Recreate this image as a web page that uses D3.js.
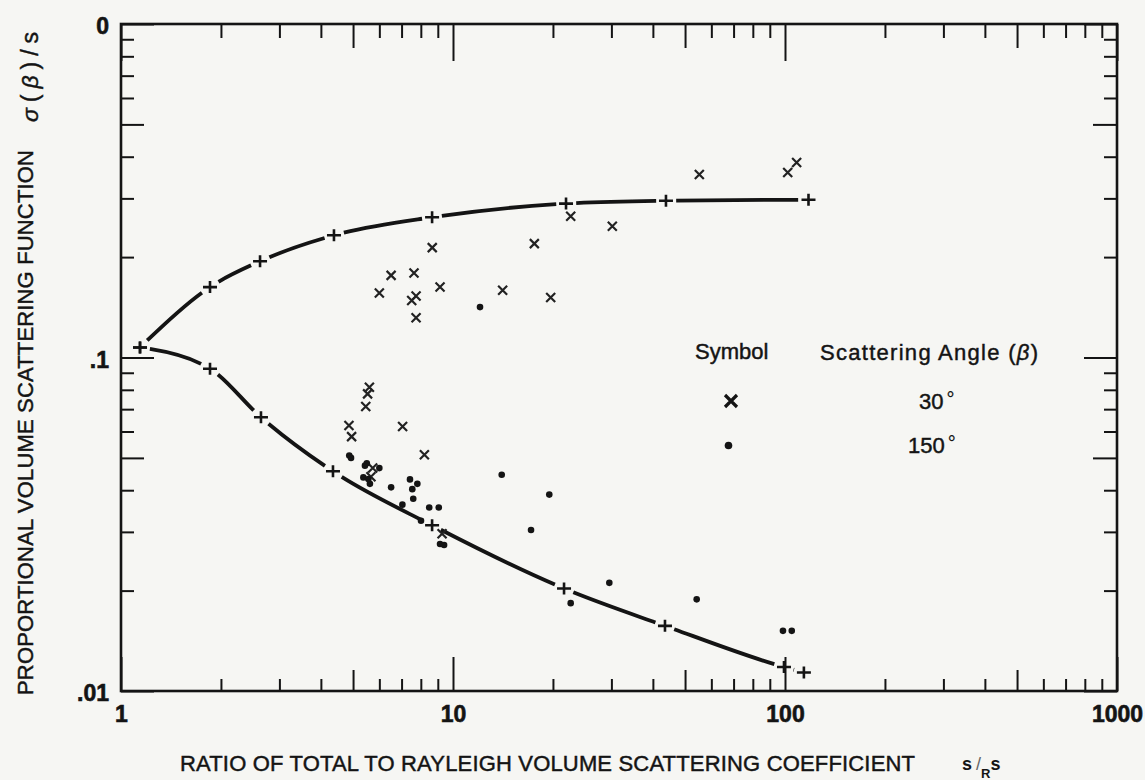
<!DOCTYPE html>
<html><head><meta charset="utf-8">
<script src="https://cdn.jsdelivr.net/npm/d3@7"></script>
<style>
body{margin:0;background:#f6f6f3;}
svg{display:block;font-family:"Liberation Sans",Arial,sans-serif;}
</style>
</head><body>
<svg id="c" width="1145" height="780"></svg>
<script>
// ---------------- data ----------------
const xTickValues = [1, 10, 100, 1000];
const xTickLabels = ["1", "10", "100", "1000"];
const yTickValues = [1, 0.1, 0.01];
const yTickLabels = ["0", ".1", ".01"];

// fitted curve, 30 degrees (upper)
const curve30X = [1.141, 1.854, 2.623, 4.38, 8.65, 21.9, 43.8, 117.7];
const curve30Y = [0.1072, 0.1626, 0.1943, 0.2325, 0.2633, 0.2894, 0.2951, 0.2972];
// fitted curve, 150 degrees (lower)
const curve150X = [1.141, 1.854, 2.64, 4.35, 8.65, 21.6, 43.5, 99.3, 114];
const curve150Y = [0.1072, 0.0925, 0.0662, 0.0456, 0.0314, 0.0203, 0.01568, 0.0118, 0.01136];

// observations, 30 degrees (x symbols)
const obs30X = [8.66, 17.58, 22.62, 30.19, 6.51, 7.63, 6.00, 9.14, 7.74, 7.51, 7.74, 14.11, 19.69, 55.2, 101.9, 108.4, 5.60, 5.53, 5.46, 4.86, 4.95, 7.05, 8.20, 5.73, 5.66, 9.27];
const obs30Y = [0.2135, 0.2195, 0.2651, 0.2474, 0.1763, 0.1792, 0.1560, 0.1626, 0.1528, 0.1483, 0.1316, 0.1590, 0.1514, 0.3537, 0.3587, 0.3843, 0.0814, 0.0778, 0.0713, 0.0625, 0.0579, 0.0621, 0.0511, 0.0466, 0.0439, 0.0296];
// observations, 150 degrees (dots)
const obs150X = [12.06, 4.87, 4.93, 5.43, 5.50, 6.00, 5.37, 5.56, 5.62, 6.51, 7.42, 7.81, 7.54, 7.59, 7.04, 8.48, 9.06, 8.01, 14.02, 19.50, 17.18, 29.57, 22.62, 54.2, 98.6, 104.8, 9.14, 9.40];
const obs150Y = [0.1416, 0.0508, 0.0500, 0.0474, 0.0482, 0.0466, 0.0437, 0.0432, 0.0418, 0.0408, 0.0431, 0.0418, 0.0403, 0.0377, 0.0362, 0.0355, 0.0355, 0.0324, 0.0445, 0.0388, 0.0304, 0.0211, 0.01834, 0.01883, 0.01515, 0.01515, 0.0276, 0.0274];

const legendSymbols = ["30", "150"];

// ---------------- drawing ----------------
const INK = "#141414";
const L = 121, R = 1117, T = 24, B = 691;
const svg = d3.select("#c");
const x = d3.scaleLog().domain([1, 1000]).range([L, R]);
const y = d3.scaleLog().domain([0.01, 1]).range([B, T]);

const decades = [1, 10, 100, 1000];
const xMinor = [], xMid = [];
decades.slice(0, 3).forEach(d => { [2,3,4,6,7,8,9].forEach(k => xMinor.push(d*k)); xMid.push(d*5); });
const yMinor = [], yMid = [];
[0.01, 0.1].forEach(d => { [2,3,4,6,7,8,9].forEach(k => yMinor.push(d*k)); yMid.push(d*5); });

function tickGroup(axisFn, scale, values, size, transform) {
  const g = svg.append("g").attr("transform", transform)
    .call(axisFn(scale).tickValues(values).tickSize(size).tickFormat(""));
  g.select(".domain").remove();
  g.selectAll("line").attr("stroke", INK).attr("stroke-width", 2);
}
// bottom (ticks up)
tickGroup(d3.axisTop, x, xMinor, 12, `translate(0,${B})`);
tickGroup(d3.axisTop, x, xMid, 21, `translate(0,${B})`);
tickGroup(d3.axisTop, x, xTickValues, 34, `translate(0,${B})`);
// top (ticks down)
tickGroup(d3.axisBottom, x, xMinor, 14, `translate(0,${T})`);
tickGroup(d3.axisBottom, x, xMid, 24, `translate(0,${T})`);
tickGroup(d3.axisBottom, x, xTickValues, 37, `translate(0,${T})`);
// left (ticks right)
tickGroup(d3.axisRight, y, yMinor, 13, `translate(${L},0)`);
tickGroup(d3.axisRight, y, yMid, 23, `translate(${L},0)`);
tickGroup(d3.axisRight, y, yTickValues, 33, `translate(${L},0)`);
// right (ticks left)
tickGroup(d3.axisLeft, y, yMinor, 13, `translate(${R},0)`);
tickGroup(d3.axisLeft, y, yMid, 24, `translate(${R},0)`);
tickGroup(d3.axisLeft, y, yTickValues, 33, `translate(${R},0)`);

// frame
svg.append("rect").attr("x", L).attr("y", T).attr("width", R - L).attr("height", B - T)
  .attr("fill", "none").attr("stroke", INK).attr("stroke-width", 2.6);

// tick labels
const gx = svg.append("g").attr("transform", `translate(0,${B})`)
  .call(d3.axisBottom(x).tickValues(xTickValues).tickSize(0).tickPadding(15)
    .tickFormat((d, i) => xTickLabels[i]));
gx.select(".domain").remove();
gx.selectAll("text").attr("font-size", 23).attr("font-weight", "bold")
  .attr("font-family", "'Liberation Sans',Arial,sans-serif").attr("fill", INK)
  .attr("stroke", INK).attr("stroke-width", 0.6);

const gy = svg.append("g").attr("transform", `translate(${L},0)`)
  .call(d3.axisLeft(y).tickValues(yTickValues).tickSize(0).tickPadding(12)
    .tickFormat((d, i) => yTickLabels[i]));
gy.select(".domain").remove();
gy.selectAll("text").attr("font-size", 23).attr("font-weight", "bold").attr("dy", "0.42em")
  .attr("font-family", "'Liberation Sans',Arial,sans-serif").attr("fill", INK)
  .attr("stroke", INK).attr("stroke-width", 0.6);

// axis titles
const thick = sel => sel.attr("stroke", INK).attr("stroke-width", 0.45);
thick(svg.append("text").attr("x", 180).attr("y", 771).attr("font-size", 22).attr("fill", INK)
  .attr("textLength", 735).attr("lengthAdjust", "spacing")
  .text("RATIO OF TOTAL TO RAYLEIGH VOLUME SCATTERING COEFFICIENT"));
const st = svg.append("text").attr("x", 962).attr("y", 770).attr("font-size", 18)
  .attr("font-weight", "bold").attr("fill", INK);
st.append("tspan").text("s");
st.append("tspan").attr("dx", 4).attr("font-weight", "normal").attr("fill", "#666").text("/");
st.append("tspan").attr("dy", 8).attr("font-size", 13).text("R");
st.append("tspan").attr("dy", -8).text("s");

thick(svg.append("text").attr("transform", "translate(33,695) rotate(-90)")
  .attr("font-size", 22).attr("fill", INK).attr("textLength", 545).attr("lengthAdjust", "spacing")
  .text("PROPORTIONAL VOLUME SCATTERING FUNCTION"));
const yt = thick(svg.append("text").attr("transform", "translate(38,122) rotate(-90)")
  .attr("font-size", 23).attr("fill", INK).attr("textLength", 90).attr("lengthAdjust", "spacing"));
yt.append("tspan").attr("font-style", "italic").text("σ");
yt.append("tspan").text("(");
yt.append("tspan").attr("font-style", "italic").text("β");
yt.append("tspan").text(")/s");

// curves
const line = d3.line().x(d => x(d[0])).y(d => y(d[1])).curve(d3.curveMonotoneX);
function drawCurve(xs, ys) {
  const pts = xs.map((v, i) => [v, ys[i]]);
  const path = svg.append("path").datum(pts).attr("d", line)
    .attr("fill", "none").attr("stroke", INK).attr("stroke-width", 3.8).attr("stroke-linecap", "butt");
  const node = path.node();
  const len = node.getTotalLength();
  const samples = [];
  for (let s = 0; s <= len; s += 0.5) { const p = node.getPointAtLength(s); samples.push([s, p.x, p.y]); }
  const gap = 10;
  const marks = pts.map(p => {
    const px = x(p[0]), py = y(p[1]);
    let best = 0, bd = Infinity;
    samples.forEach(s => { const d = (s[1]-px)**2 + (s[2]-py)**2; if (d < bd) { bd = d; best = s[0]; } });
    return best;
  }).sort((a, b) => a - b);
  const arr = []; let pos = 0;
  marks.forEach(m => {
    const a = Math.max(0, m - gap), b = Math.min(len, m + gap);
    const st = Math.max(a, pos);
    arr.push(Math.max(0, st - pos)); arr.push(Math.max(0, b - st)); pos = Math.max(pos, b);
  });
  arr.push(Math.max(0, len - pos)); arr.push(20);
  path.attr("stroke-dasharray", arr.join(","));
  svg.append("g").selectAll("path").data(pts).join("path")
    .attr("transform", d => `translate(${x(d[0])},${y(d[1])})`)
    .attr("d", "M-7,0H7M0,-6V6").attr("stroke", INK).attr("stroke-width", 2.6).attr("fill", "none");
}
drawCurve(curve30X, curve30Y);
drawCurve(curve150X, curve150Y);

// observations
const xPath = "M-4.5,-4.5L4.5,4.5M-4.5,4.5L4.5,-4.5";
svg.append("g").selectAll("path").data(obs30X.map((v, i) => [v, obs30Y[i]])).join("path")
  .attr("transform", d => `translate(${x(d[0])},${y(d[1])})`)
  .attr("d", xPath).attr("stroke", "#222").attr("stroke-width", 2.2).attr("fill", "none");
svg.append("g").selectAll("circle").data(obs150X.map((v, i) => [v, obs150Y[i]])).join("circle")
  .attr("cx", d => x(d[0])).attr("cy", d => y(d[1])).attr("r", 3.3).attr("fill", INK);

// legend
thick(svg.append("text").attr("x", 695).attr("y", 359).attr("font-size", 22).attr("fill", INK).text("Symbol"));
const lt = thick(svg.append("text").attr("x", 820).attr("y", 360).attr("font-size", 22).attr("fill", INK)
  .attr("textLength", 218).attr("lengthAdjust", "spacing"));
lt.append("tspan").text("Scattering Angle (");
lt.append("tspan").attr("font-style", "italic").text("β");
lt.append("tspan").text(")");
svg.append("path").attr("transform", "translate(731,401)")
  .attr("d", "M-6,-6L6,6M-6,6L6,-6").attr("stroke", INK).attr("stroke-width", 3.2);
svg.append("circle").attr("cx", 728.5).attr("cy", 445.5).attr("r", 3.8).attr("fill", INK);
[[919, 409], [908, 453]].forEach((p, i) => {
  const t = thick(svg.append("text").attr("x", p[0]).attr("y", p[1]).attr("font-size", 22).attr("fill", INK));
  t.append("tspan").text(legendSymbols[i]);
  t.append("tspan").attr("dx", 3).attr("dy", -3).attr("font-size", 20).attr("stroke-width", 0.2).text("°");
});
</script>
</body></html>
